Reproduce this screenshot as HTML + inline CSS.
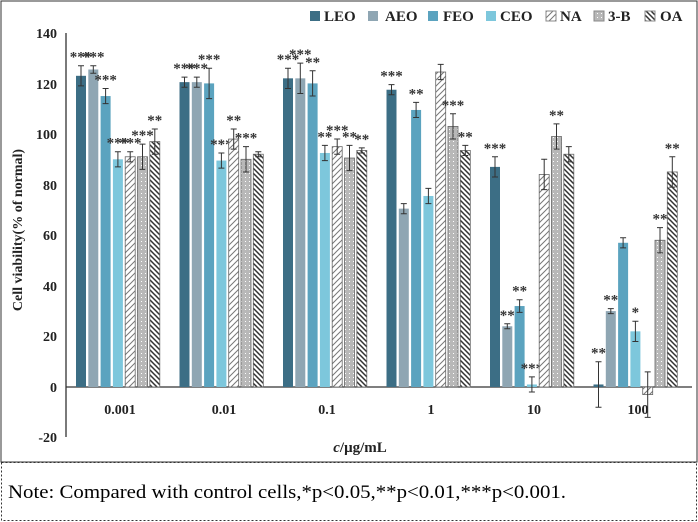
<!DOCTYPE html>
<html><head><meta charset="utf-8"><style>
body{margin:0;background:#fff;width:698px;height:522px;overflow:hidden;font-family:"Liberation Serif",serif}
svg{position:absolute;left:0;top:0}
</style></head><body>
<svg id="s" width="698" height="522" xmlns="http://www.w3.org/2000/svg">
<defs>
<pattern id="pNA" width="6" height="6" patternUnits="userSpaceOnUse"><rect width="6" height="6" fill="#fff"/><path d="M0 6L6 0M-1 1L1 -1M5 7L7 5" stroke="#777" stroke-width="1"/></pattern>
<pattern id="pB" width="4" height="4" patternUnits="userSpaceOnUse"><rect width="4" height="4" fill="#b8b8b8"/><rect x="1" y="1" width="1" height="1" fill="#fff"/></pattern>
<pattern id="pOA" width="5" height="5" patternUnits="userSpaceOnUse"><rect width="5" height="5" fill="#fff"/><path d="M0 0L5 5M-1 4L1 6M4 -1L6 1" stroke="#333" stroke-width="1.5"/></pattern>
</defs>
<rect x="1" y="1" width="696" height="461" fill="none" stroke="#333" stroke-width="1"/>
<rect x="1.5" y="462.5" width="695" height="58" fill="none" stroke="#333" stroke-width="1" stroke-dasharray="2,2"/>
<text x="8" y="498" font-size="19" fill="#000" textLength="558" lengthAdjust="spacingAndGlyphs">Note: Compared with control cells,*p&lt;0.05,**p&lt;0.01,***p&lt;0.001.</text>
<g id="ax" stroke="#333" stroke-width="1.3">
<line x1="66" y1="33" x2="66" y2="437"/><line x1="66" y1="387" x2="692" y2="387"/>
</g>
<g font-size="14" font-weight="bold" text-anchor="end" fill="#222">
<text x="57" y="38">140</text><text x="57" y="89">120</text><text x="57" y="139">100</text><text x="57" y="190">80</text><text x="57" y="240">60</text><text x="57" y="291">40</text><text x="57" y="341">20</text><text x="57" y="392">0</text><text x="57" y="442">-20</text>
</g>
<g font-size="14" font-weight="bold" text-anchor="middle" fill="#222">
<text x="120" y="414">0.001</text><text x="224" y="414">0.01</text><text x="327" y="414">0.1</text><text x="431" y="414">1</text><text x="534" y="414">10</text><text x="638" y="414">100</text>
<text x="360" y="452" font-size="15"><tspan font-style="italic">c</tspan>/μg/mL</text>
</g>
<text transform="translate(22,230) rotate(-90)" font-size="14" font-weight="bold" text-anchor="middle" fill="#222">Cell viability(% of normal)</text>
<g font-size="15" font-weight="bold" fill="#222">
<rect x="310" y="11" width="10" height="10" fill="#3c6e85"/><text x="324" y="21">LEO</text>
<rect x="368" y="11" width="10" height="10" fill="#8fa6b3"/><text x="385" y="21">AEO</text>
<rect x="428" y="11" width="10" height="10" fill="#5ba3bf"/><text x="443" y="21">FEO</text>
<rect x="486" y="11" width="10" height="10" fill="#7dc7dc"/><text x="500" y="21">CEO</text>
<rect x="546" y="11" width="10" height="10" fill="url(#pNA)" stroke="#888"/><text x="560" y="21">NA</text>
<rect x="594" y="11" width="10" height="10" fill="url(#pB)" stroke="#888"/><text x="608" y="21">3-B</text>
<rect x="645" y="11" width="10" height="10" fill="url(#pOA)" stroke="#888"/><text x="660" y="21">OA</text>
</g>
<g id="bars"></g>
</svg>
<script>
var V=[[123,125.5,115,90,91,91,97],[120.5,120.5,120,89.5,98,90,92],[122,122,120,92.5,95,90.5,93.5],[117.5,70.5,109.5,75.5,124.5,103,93.5],[87,24,32,1,84,99,92],[1,30,57,22,-3,58,85]];
var E=[[4,1.5,3,3,2,5,5],[2,2,6,3,4,5,1],[4,6,5,3,3,5,1],[2,2,3,3,3,5,2],[4,1,2.5,3,6,5,3],[9,1,2,4,9,5,6]];
var S=[["***","***","***","***","***","***","**"],["***","***","***","***","**","***",""],["***","***","**","**","***","**","**"],["***","","**","","","***","**"],["***","**","**","***","","**",""],["**","**","","*","","**","**"]];
var F=["#3c6e85","#8fa6b3","#5ba3bf","#7dc7dc","url(#pNA)","url(#pB)","url(#pOA)"];
var h="";function y(v){return 387-2.53*v}
for(var g=0;g<6;g++)for(var b=0;b<7;b++){var x=76+g*103.5+b*12.3,v=V[g][b],t=Math.min(y(v),387),hh=Math.abs(y(v)-387);
h+='<rect x="'+x+'" y="'+t+'" width="10" height="'+hh+'" fill="'+F[b]+'"'+(b>3?' stroke="#666" stroke-width="0.8"':'')+'/>';
var c=x+5,e1=y(v+E[g][b]),e2=y(v-E[g][b]);
h+='<path d="M'+c+' '+e1+'V'+e2+'M'+(c-3)+' '+e1+'H'+(c+3)+'M'+(c-3)+' '+e2+'H'+(c+3)+'" stroke="#333" stroke-width="1"/>';
if(S[g][b])h+='<text x="'+c+'" y="'+(e1-4)+'" font-size="15" font-weight="bold" fill="#333" text-anchor="middle">'+S[g][b]+'</text>';}
document.getElementById("bars").innerHTML=h;
</script>
</body></html>
